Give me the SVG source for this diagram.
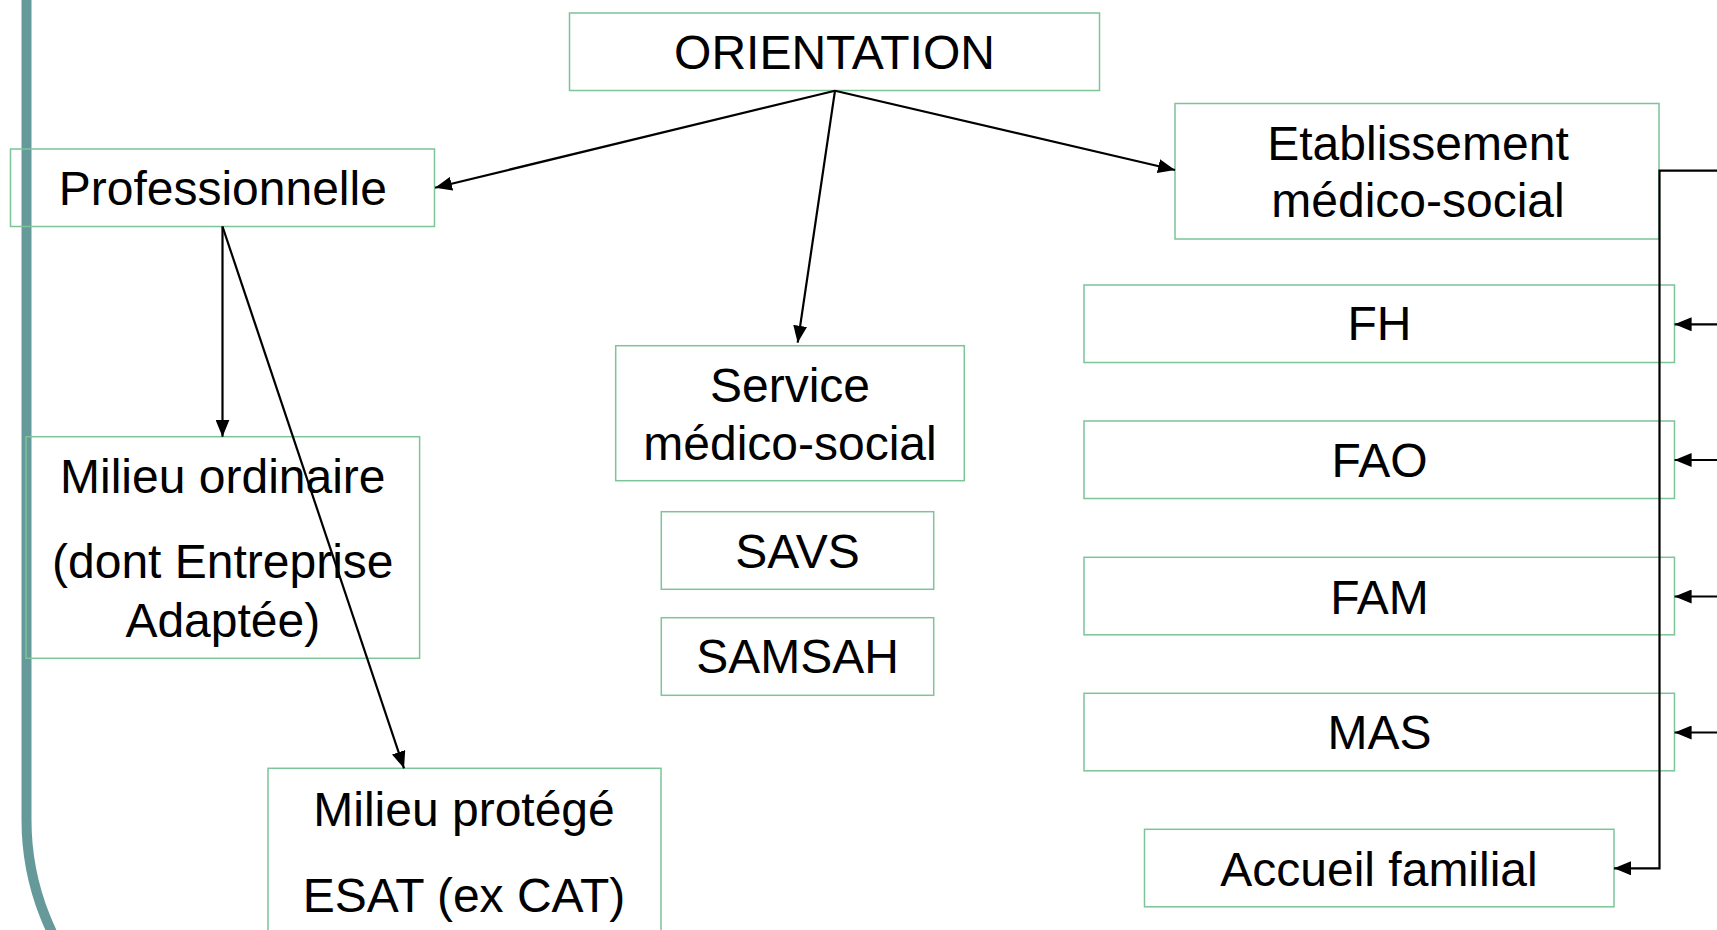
<svg xmlns="http://www.w3.org/2000/svg" width="1717" height="930" viewBox="0 0 1717 930">
<style>
.box{fill:none;stroke:#7cc49a;stroke-width:1.5}
.t{font-family:"Liberation Sans",Arial,sans-serif;font-size:48px;fill:#000;text-anchor:middle}
.c{fill:none;stroke:#000;stroke-width:2.2}
</style>
<defs>
<marker id="ah" markerUnits="userSpaceOnUse" markerWidth="18" markerHeight="14" refX="17" refY="7" orient="auto">
<path d="M0,0 L17,7 L0,14 z" fill="#000"/>
</marker>
</defs>
<rect width="1717" height="930" fill="#fff"/>
<path d="M26.5,-10 V820 A260,260 0 0 0 286.5,1080" fill="none" stroke="#669999" stroke-width="10"/>
<g id="orientation"><rect class="box" x="569.5" y="13" width="530" height="77.5"/><text class="t" x="834.5" y="69.3">ORIENTATION</text></g>
<g id="professionnelle"><rect class="box" x="10.5" y="149" width="424" height="77.5"/><text class="t" x="222.8" y="205">Professionnelle</text></g>
<g id="etablissement"><rect class="box" x="1175" y="103.5" width="484" height="135.5"/><text class="t" x="1418" y="160">Etablissement</text><text class="t" x="1418" y="216.7">médico-social</text></g>
<g id="fh"><rect class="box" x="1084" y="285" width="590.5" height="77.5"/><text class="t" x="1379.5" y="340">FH</text></g>
<g id="fao"><rect class="box" x="1084" y="421" width="590.5" height="77.5"/><text class="t" x="1379.5" y="476.7">FAO</text></g>
<g id="fam"><rect class="box" x="1084" y="557.3" width="590.5" height="77.5"/><text class="t" x="1379.5" y="614">FAM</text></g>
<g id="mas"><rect class="box" x="1084" y="693.3" width="590.5" height="77.5"/><text class="t" x="1379.5" y="749.3">MAS</text></g>
<g id="accueil"><rect class="box" x="1144.5" y="829.3" width="469.5" height="77.5"/><text class="t" x="1379" y="886">Accueil familial</text></g>
<g id="service"><rect class="box" x="615.7" y="345.7" width="348.6" height="135"/><text class="t" x="790" y="401.7">Service</text><text class="t" x="790" y="460">médico-social</text></g>
<g id="savs"><rect class="box" x="661.3" y="511.7" width="272.4" height="77.6"/><text class="t" x="797.5" y="568.3">SAVS</text></g>
<g id="samsah"><rect class="box" x="661.3" y="617.7" width="272.4" height="77.6"/><text class="t" x="797.5" y="673.3">SAMSAH</text></g>
<g id="milieu-ordinaire"><rect class="box" x="26" y="436.7" width="393.6" height="221.6"/><text class="t" x="222.8" y="492.7">Milieu ordinaire</text><text class="t" x="222.8" y="578.3">(dont Entreprise</text><text class="t" x="222.8" y="636.7">Adaptée)</text></g>
<g id="milieu-protege"><rect class="box" x="268" y="768.3" width="393" height="180"/><text class="t" x="464" y="826">Milieu protégé</text><text class="t" x="464" y="911.7">ESAT (ex CAT)</text></g>
<g id="connectors">
<line class="c" x1="835" y1="90.7" x2="435" y2="187.7" marker-end="url(#ah)"/>
<line class="c" x1="835" y1="90.7" x2="797.7" y2="342.7" marker-end="url(#ah)"/>
<line class="c" x1="835" y1="90.7" x2="1175" y2="170" marker-end="url(#ah)"/>
<line class="c" x1="222.5" y1="226.5" x2="222.5" y2="436.7" marker-end="url(#ah)"/>
<line class="c" x1="222.5" y1="226.5" x2="404" y2="768.3" marker-end="url(#ah)"/>
<path class="c" d="M1717,170.7 H1659.5 V868.3 H1614" marker-end="url(#ah)"/>
<line class="c" x1="1717" y1="324.3" x2="1674.6" y2="324.3" marker-end="url(#ah)"/>
<line class="c" x1="1717" y1="460" x2="1674.6" y2="460" marker-end="url(#ah)"/>
<line class="c" x1="1717" y1="596.5" x2="1674.6" y2="596.5" marker-end="url(#ah)"/>
<line class="c" x1="1717" y1="732.5" x2="1674.6" y2="732.5" marker-end="url(#ah)"/>
</g>
</svg>
